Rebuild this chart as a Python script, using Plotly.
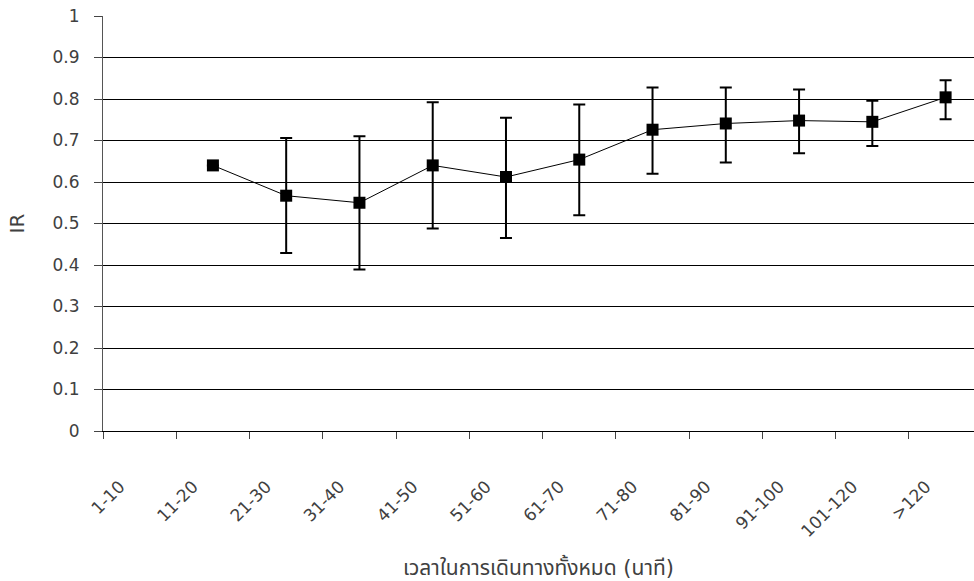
import plotly.graph_objects as go

categories = ["1-10", "11-20", "21-30", "31-40", "41-50", "51-60", "61-70",
              "71-80", "81-90", "91-100", "101-120", ">120"]
ir_mean = [None, 0.640, 0.567, 0.550, 0.640, 0.612, 0.654, 0.726, 0.741, 0.748, 0.745, 0.804]
ir_upper = [None, 0.640, 0.706, 0.710, 0.792, 0.755, 0.787, 0.828, 0.828, 0.823, 0.796, 0.845]
ir_lower = [None, 0.640, 0.429, 0.389, 0.488, 0.465, 0.520, 0.620, 0.647, 0.669, 0.687, 0.751]
y_ticks = [0, 0.1, 0.2, 0.3, 0.4, 0.5, 0.6, 0.7, 0.8, 0.9, 1]
y_ticktext = ["0", "0.1", "0.2", "0.3", "0.4", "0.5", "0.6", "0.7", "0.8", "0.9", "1"]

xs, ys, ep, em = [], [], [], []
for i, m in enumerate(ir_mean):
    if m is None:
        continue
    xs.append(i)
    ys.append(m)
    ep.append(ir_upper[i] - m)
    em.append(m - ir_lower[i])

FONT = "DejaVu Sans, Noto Sans Thai, Noto Sans, sans-serif"
TXT = "#404040"

fig = go.Figure()
fig.add_trace(go.Scatter(
    x=xs, y=ys, mode="lines+markers",
    line=dict(color="black", width=1),
    marker=dict(symbol="square", size=12, color="black"),
    error_y=dict(type="data", symmetric=False, array=ep, arrayminus=em,
                 color="black", thickness=2, width=6),
    showlegend=False,
))

n = len(categories)
fig.update_layout(
    width=974, height=581,
    margin=dict(l=103, r=0, t=16, b=150),
    paper_bgcolor="white", plot_bgcolor="white",
    font=dict(family=FONT, color=TXT, size=17),
    xaxis=dict(
        range=[-0.5, -0.5 + (974 - 103) / 73.27],
        tickmode="array",
        tickvals=[i - 0.27 for i in range(n)],
        ticktext=categories,
        tickangle=-45,
        ticks="",
        ticklabelstandoff=38,
        tickfont=dict(size=17, color=TXT),
        showgrid=False,
        zeroline=False,
        showline=True, linecolor="black", linewidth=1,
        minor=dict(tickmode="array", tickvals=[i - 0.5 for i in range(n)],
                   ticks="outside", ticklen=7, tickcolor="#444", tickwidth=1,
                   showgrid=False),
        title=dict(text="เวลาในการเดินทางทั้งหมด (นาที)", font=dict(size=21, color=TXT),
                   standoff=20),
    ),
    yaxis=dict(
        range=[0, 1],
        tickmode="array", tickvals=y_ticks, ticktext=y_ticktext,
        ticks="outside", ticklen=8, tickcolor="#444", tickwidth=1,
        ticklabelstandoff=11,
        tickfont=dict(size=17, color=TXT),
        showgrid=True, gridcolor="black", gridwidth=1,
        zeroline=False,
        showline=True, linecolor="#555", linewidth=1,
        title=dict(text="IR", font=dict(size=20, color=TXT), standoff=22),
    ),
)

fig.write_html("out.html")
